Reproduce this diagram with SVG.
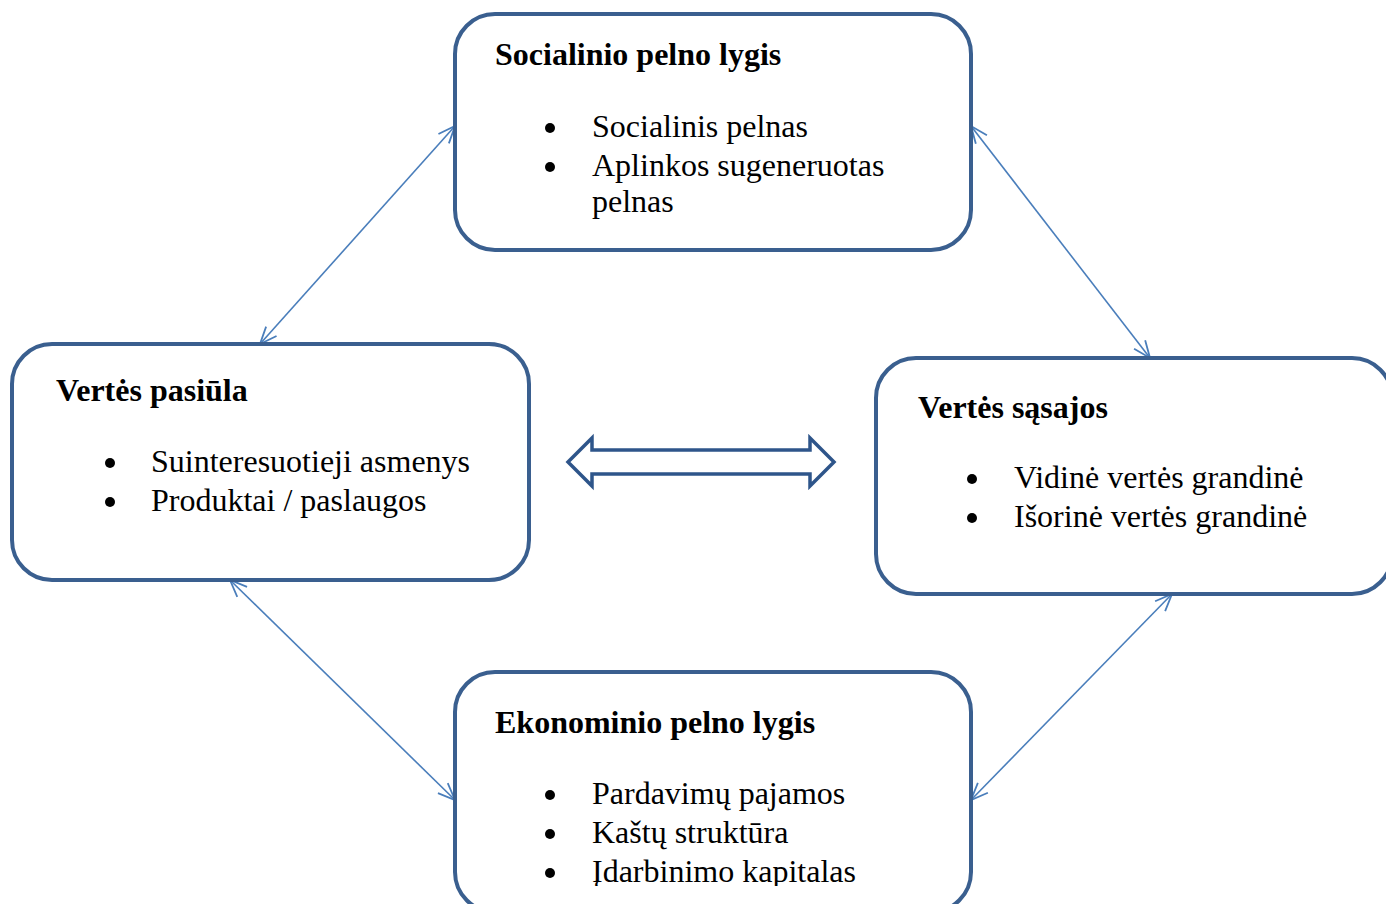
<svg xmlns="http://www.w3.org/2000/svg" width="1386" height="904" viewBox="0 0 1386 904">
<style>
.box{fill:#fff;stroke:#3A5F8F;stroke-width:4}
.t{font-family:"Liberation Serif","Times New Roman",serif;font-size:32px;fill:#000}
.b{font-weight:bold}
.c{stroke:#4A7EBB;stroke-width:1.6;fill:none}
.dot{fill:#000}
</style>
<defs>
<marker id="ah" viewBox="0 0 20 20" refX="19" refY="10" markerWidth="20" markerHeight="20" markerUnits="userSpaceOnUse" orient="auto-start-reverse">
<path d="M2,3 L19,10 L2,17" fill="none" stroke="#4A7EBB" stroke-width="1.8"/>
</marker>
<clipPath id="clipB"><rect x="455" y="672" width="520" height="214"/></clipPath>
</defs>
<rect width="1386" height="904" fill="#fff"/>
<g id="connectors">
<line class="c" x1="455" y1="126" x2="260" y2="344" marker-start="url(#ah)" marker-end="url(#ah)"/>
<line class="c" x1="971" y1="126" x2="1150" y2="358" marker-start="url(#ah)" marker-end="url(#ah)"/>
<line class="c" x1="230" y1="580" x2="455" y2="800" marker-start="url(#ah)" marker-end="url(#ah)"/>
<line class="c" x1="1172" y1="594" x2="971" y2="800" marker-start="url(#ah)" marker-end="url(#ah)"/>
<path d="M568,462 L592,438 L592,450 L810,450 L810,438 L834,462 L810,486 L810,474 L592,474 L592,486 Z" fill="#fff" stroke="#2E558A" stroke-width="3.5" stroke-linejoin="miter"/>
</g>
<g id="top">
<rect class="box" x="455" y="14" width="516" height="236" rx="40"/>
<text class="t b" x="495" y="65">Socialinio pelno lygis</text>
<circle class="dot" cx="550" cy="128" r="5"/>
<text class="t" x="592" y="137">Socialinis pelnas</text>
<circle class="dot" cx="550" cy="167" r="5"/>
<text class="t" x="592" y="176">Aplinkos sugeneruotas</text>
<text class="t" x="592" y="212">pelnas</text>
</g>
<g id="left">
<rect class="box" x="12" y="344" width="517" height="236" rx="40"/>
<text class="t b" x="56" y="401">Vertės pasiūla</text>
<circle class="dot" cx="110" cy="463" r="5"/>
<text class="t" x="151" y="472">Suinteresuotieji asmenys</text>
<circle class="dot" cx="110" cy="502" r="5"/>
<text class="t" x="151" y="511">Produktai / paslaugos</text>
</g>
<g id="right">
<rect class="box" x="876" y="358" width="516" height="236" rx="40"/>
<text class="t b" x="918" y="418">Vertės sąsajos</text>
<circle class="dot" cx="972" cy="479" r="5"/>
<text class="t" x="1014" y="488">Vidinė vertės grandinė</text>
<circle class="dot" cx="972" cy="518" r="5"/>
<text class="t" x="1014" y="527">Išorinė vertės grandinė</text>
</g>
<g id="bottom">
<rect class="box" x="455" y="672" width="516" height="240" rx="40"/>
<text class="t b" x="495" y="733">Ekonominio pelno lygis</text>
<circle class="dot" cx="550" cy="795" r="5"/>
<text class="t" x="592" y="804">Pardavimų pajamos</text>
<circle class="dot" cx="550" cy="834" r="5"/>
<text class="t" x="592" y="843">Kaštų struktūra</text>
<g clip-path="url(#clipB)">
<circle class="dot" cx="550" cy="873" r="5"/>
<text class="t" x="592" y="882">Įdarbinimo kapitalas</text>
</g>
</g>
</svg>
